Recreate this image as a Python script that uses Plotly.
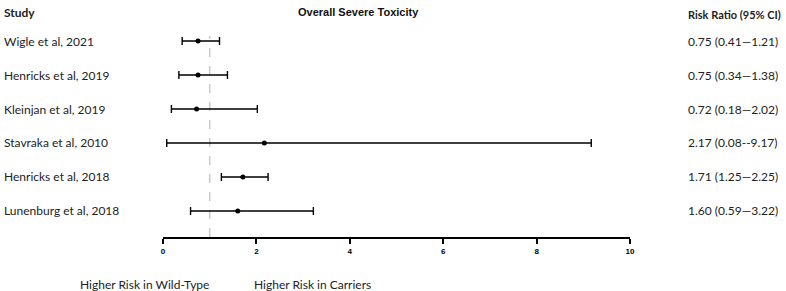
import plotly.graph_objects as go

studies = ["Wigle et al, 2021", "Henricks et al, 2019", "Kleinjan et al, 2019",
           "Stavraka et al, 2010", "Henricks et al, 2018", "Lunenburg et al, 2018"]
rr = [0.75, 0.75, 0.72, 2.17, 1.71, 1.60]
lo = [0.41, 0.34, 0.18, 0.08, 1.25, 0.59]
hi = [1.21, 1.38, 2.02, 9.17, 2.25, 3.22]
ci_text = ["0.75 (0.41\u20141.21)", "0.75 (0.34\u20141.38)", "0.72 (0.18\u20142.02)",
           "2.17 (0.08--9.17)", "1.71 (1.25\u20142.25)", "1.60 (0.59\u20143.22)"]
x_ticks = [0, 2, 4, 6, 8, 10]

n = len(studies)
ypos = [n - i for i in range(n)]

W, H = 786, 291
ml, mr, mt, mb = 163, 786 - 630, 7, 54
def px(x):
    return (x - ml) / (W - ml - mr)
def py(y):
    return (H - mb - y) / (H - mt - mb)

fig = go.Figure()
fig.add_trace(go.Scatter(
    x=rr, y=ypos, mode="markers",
    marker=dict(color="black", size=5),
    error_x=dict(type="data", symmetric=False,
                 array=[h - r for h, r in zip(hi, rr)],
                 arrayminus=[r - l for r, l in zip(rr, lo)],
                 color="black", thickness=1.4, width=4),
    showlegend=False, hoverinfo="skip"))

fig.add_shape(type="line", x0=1, x1=1, y0=0.235, y1=6.15, xref="x", yref="y",
              line=dict(color="#c8c8c8", width=1.5, dash="dash"), layer="below")

font_main = "Lato, Open Sans, sans-serif"
for s, y in zip(studies, ypos):
    fig.add_annotation(text=s, x=px(2), y=y, xref="paper", yref="y", xanchor="left",
                       yanchor="middle", showarrow=False,
                       font=dict(family=font_main, size=12, color="#222"))
for t, y in zip(ci_text, ypos):
    fig.add_annotation(text=t, x=px(686), y=y, xref="paper", yref="y", xanchor="left",
                       yanchor="middle", showarrow=False,
                       font=dict(family=font_main, size=12, color="#222"))

def label(text, x, y, size=12, family=font_main, anchor="left", color="#222"):
    fig.add_annotation(text=text, x=px(x), y=py(y), xref="paper", yref="paper",
                       xanchor=anchor, yanchor="middle", showarrow=False,
                       font=dict(family=family, size=size, color=color))

label("<b>Study</b>", 2, 13)
label("<b>Risk Ratio (95% CI)</b>", 686, 14, size=11)
label("<b>Overall Severe Toxicity</b>", 358, 12, size=11,
      family="Liberation Sans, Arial", anchor="center", color="#111")
label("Higher Risk in Wild-Type", 78, 284)
label("Higher Risk in Carriers", 252, 284)

fig.update_layout(
    width=W, height=H,
    margin=dict(l=ml, r=mr, t=mt, b=mb, pad=0),
    plot_bgcolor="white", paper_bgcolor="white",
    xaxis=dict(range=[0, 10], tickvals=x_ticks, ticktext=[f"<b>{v}</b>" for v in x_ticks],
               showgrid=False, zeroline=False, showline=True, linecolor="black", linewidth=2,
               ticks="outside", ticklen=5, tickwidth=1.5, tickcolor="black",
               tickfont=dict(family="Liberation Sans, Arial", size=8, color="black")),
    yaxis=dict(range=[0.235, 7], showgrid=False, zeroline=False, showticklabels=False,
               showline=False, ticks=""),
)

fig.write_html("out.html", config={"displayModeBar": False},
               post_script="document.body.style.margin='0';document.body.style.padding='0';")
